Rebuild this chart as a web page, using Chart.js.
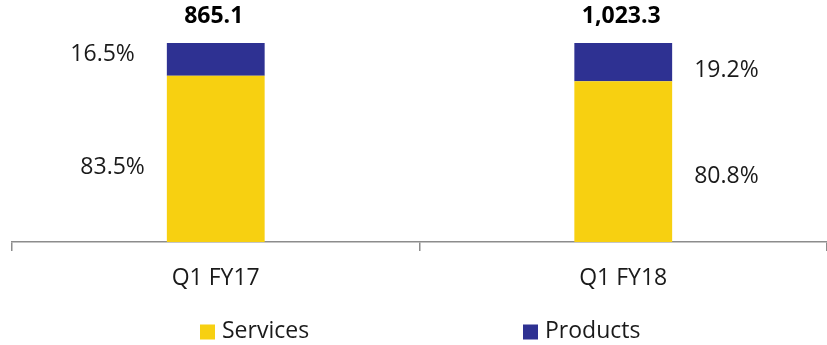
<!DOCTYPE html>
<html>
<head>
<meta charset="utf-8">
<script src="https://cdn.jsdelivr.net/npm/chart.js@4.4.0/dist/chart.umd.min.js"></script>
<style>
html,body{margin:0;padding:0;background:#fff;}
#wrap{width:827px;height:345px;position:relative;}
</style>
</head>
<body>
<div id="wrap"><canvas id="c" width="827" height="345"></canvas></div>
<script>
const categories=['Q1 FY17','Q1 FY18'];
const services=[83.5,80.8];
const products=[16.5,19.2];
const totals=[865.1,1023.3];
const seriesNames=['Services','Products'];

const FONT='"Open Sans", "Noto Sans", sans-serif';
const YELLOW='#F7D011';
const NAVY='#2E3192';

function fmtTotal(v){return v.toLocaleString('en-US',{minimumFractionDigits:1,maximumFractionDigits:1});}

// segment labels: left of first bar, right of second bar
const segLabels={
  id:'segLabels',
  afterDatasetsDraw(chart){
    const ctx=chart.ctx;
    ctx.save();
    ctx.font='23px '+FONT;
    ctx.fillStyle='#1a1a1a';
    ctx.textBaseline='middle';
    const dy=[[9,-4.5],[14.5,8]];
    chart.data.datasets.forEach((ds,di)=>{
      const meta=chart.getDatasetMeta(di);
      meta.data.forEach((bar,i)=>{
        const mid=(bar.y+bar.base)/2+dy[i][di];
        const txt=ds.data[i].toFixed(1)+'%';
        if(i===0){
          ctx.textAlign='right';
          ctx.fillText(txt,bar.x-bar.width/2-(di===1?32:22),mid);
        }else{
          ctx.textAlign='left';
          ctx.fillText(txt,bar.x+bar.width/2+22,mid);
        }
      });
    });
    // totals
    const top=chart.getDatasetMeta(1);
    ctx.font='bold 23px '+FONT;
    ctx.fillStyle='#000';
    ctx.textAlign='center';
    top.data.forEach((bar,i)=>{
      ctx.fillText(fmtTotal(totals[i]),bar.x-2,bar.y-27);
    });
    ctx.restore();
  }
};

// legend drawn at fixed spots below the axis
const legendPlug={
  id:'legendPlug',
  afterDraw(chart){
    const ctx=chart.ctx;
    ctx.save();
    ctx.font='23px '+FONT;
    ctx.textBaseline='middle';
    ctx.textAlign='left';
    const xs=[200,523];
    const cols=[YELLOW,NAVY];
    const y=332;
    seriesNames.forEach((n,i)=>{
      ctx.fillStyle=cols[i];
      ctx.fillRect(xs[i],y-7.5,15,15);
      ctx.fillStyle='#1a1a1a';
      ctx.fillText(n,xs[i]+22,y-1);
    });
    ctx.restore();
  }
};

new Chart(document.getElementById('c'),{
  type:'bar',
  data:{
    labels:categories,
    datasets:[
      {label:seriesNames[0],data:services,backgroundColor:YELLOW,categoryPercentage:1,barPercentage:0.24},
      {label:seriesNames[1],data:products,backgroundColor:NAVY,categoryPercentage:1,barPercentage:0.24}
    ]
  },
  options:{
    responsive:false,
    animation:false,
    layout:{padding:{top:43,left:12,right:0,bottom:0}},
    plugins:{legend:{display:false},tooltip:{enabled:false}},
    scales:{
      x:{
        stacked:true,
        grid:{offset:true,drawOnChartArea:false,drawTicks:true,tickLength:9,color:'#8c8c8c',lineWidth:1.5},
        border:{display:true,color:'#8c8c8c',width:1.5},
        ticks:{font:{family:FONT,size:23},color:'#1a1a1a',padding:14},
        afterFit(s){s.height=103;}
      },
      y:{stacked:true,display:false,min:0,max:100}
    }
  },
  plugins:[segLabels,legendPlug]
});
</script>
</body>
</html>
